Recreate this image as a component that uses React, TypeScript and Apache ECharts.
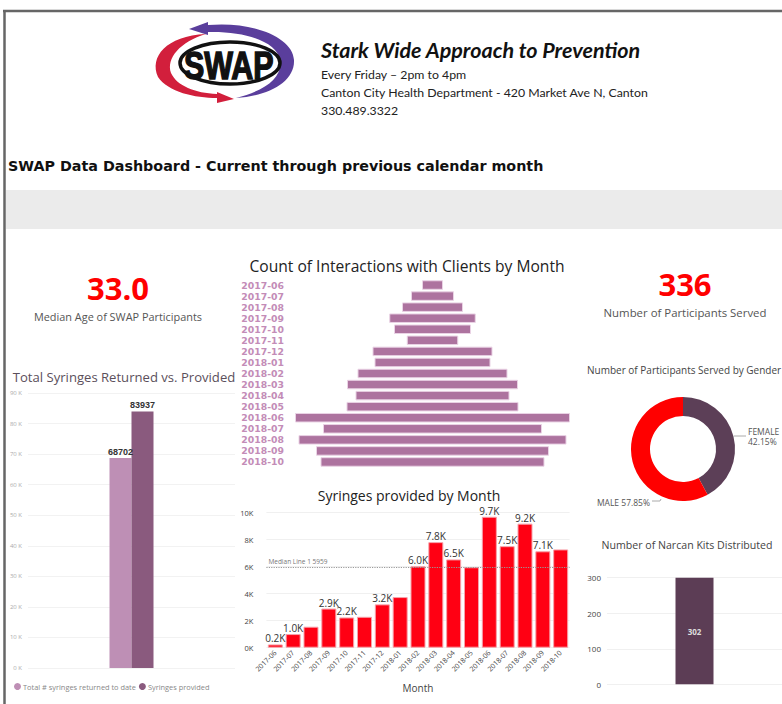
import React, { useEffect, useRef } from 'react';
import * as echarts from 'echarts';

// ---------- data ----------
const interactionMonths = ['2017-06','2017-07','2017-08','2017-09','2017-10','2017-11','2017-12','2018-01','2018-02','2018-03','2018-04','2018-05','2018-06','2018-07','2018-08','2018-09','2018-10'];
const interactionCounts = [42, 86, 122, 173, 154, 103, 240, 232, 300, 342, 308, 344, 550, 438, 536, 466, 448];

const syringeMonths = interactionMonths;
const syringesProvided = [240, 1010, 1555, 2900, 2240, 2290, 3210, 3750, 6030, 7820, 6540, 5959, 9700, 7520, 9190, 7140, 7280];
const unlabeledMonths = [2, 5, 7, 11, 16];

const totalsSeries = ['Total # syringes returned to date', 'Syringes provided'];
const totalsValues = [68702, 83937];

const genderNames = ['FEMALE', 'MALE'];
const genderCounts = [137, 188];

const narcanKits = [302];

const medianAge = '33.0';
const participantsServed = '336';

const FONT = 'Open Sans';

const redSwoosh = 'M 206 34 C 166 36, 149 57, 158 77 C 168 92, 195 98, 217 98 L 217 103 L 234 99 L 217 92 L 217 94 C 195 93, 177 86, 171 73 C 166 58, 180 42, 206 34 Z';
const purpleSwoosh = 'M 208 25 C 252 21, 293 37, 294 60 C 295 82, 268 96, 236 98 C 264 91, 283 78, 280 60 C 277 42, 246 31, 208 32 L 208 35 L 189 29 L 208 22 Z';

echarts.graphic.registerShape('redSwoosh', echarts.graphic.extendPath(redSwoosh, {}));
echarts.graphic.registerShape('purpleSwoosh', echarts.graphic.extendPath(purpleSwoosh, {}));

function txt(x: number, y: number, text: string, o: any = {}) {
  return {
    type: 'text', x, y, silent: true,
    style: {
      text, fontFamily: o.fontFamily || FONT, fontSize: o.fontSize || 12,
      fontWeight: o.fontWeight || 'normal', fontStyle: o.fontStyle || 'normal',
      fill: o.fill || '#333', align: o.align || 'left', verticalAlign: 'middle',
      stroke: o.stroke, lineWidth: o.lineWidth || 0,
    },
    scaleX: o.scaleX || 1,
    originX: 0, originY: 0,
  };
}

export default function App() {
  const ref = useRef<HTMLDivElement>(null);
  useEffect(() => {
    const chart = echarts.init(ref.current!, null, { renderer: 'svg' });
    const maxInteraction = Math.max(...interactionCounts);
    const offsets = interactionCounts.map((v) => (maxInteraction - v) / 2);
    const sorted = [...syringesProvided].sort((a, b) => a - b);
    const median = sorted[Math.floor(sorted.length / 2)];

    const option: any = {
      animation: false,
      backgroundColor: '#ffffff',
      graphic: [
        { type: 'rect', shape: { x: 6, y: 190, width: 776, height: 39 }, style: { fill: '#ebebeb' }, silent: true },
        { type: 'line', shape: { x1: 3, y1: 11, x2: 782, y2: 11 }, style: { stroke: '#666', lineWidth: 2.5 }, silent: true },
        { type: 'line', shape: { x1: 4.5, y1: 10, x2: 4.5, y2: 704 }, style: { stroke: '#666', lineWidth: 2.5 }, silent: true },
        { type: 'redSwoosh', x: 0, y: 0, style: { fill: '#d21f3c' }, silent: true },
        { type: 'purpleSwoosh', x: 0, y: 0, style: { fill: '#5a3e9c' }, silent: true },
        { type: 'ellipse', shape: { cx: 230, cy: 63, rx: 50, ry: 21 }, style: { fill: '#fff', stroke: '#111', lineWidth: 3.5 }, silent: true },
        txt(184, 66, 'SWAP', { fontFamily: 'Liberation Sans', fontSize: 38, fontWeight: 'bold', fill: '#111', scaleX: 0.8, stroke: '#111', lineWidth: 1.5 }),
        txt(321, 50, 'Stark Wide Approach to Prevention', { fontFamily: 'Lato', fontSize: 21.5, fontWeight: 'bold', fontStyle: 'italic', fill: '#111' }),
        txt(321, 74, 'Every Friday \u2013 2pm to 4pm', { fontFamily: 'Lato', fontSize: 12.3, fill: '#222' }),
        txt(321, 92, 'Canton City Health Department - 420 Market Ave N, Canton', { fontFamily: 'Lato', fontSize: 12.3, fill: '#222' }),
        txt(321, 110, '330.489.3322', { fontFamily: 'Lato', fontSize: 12.3, fill: '#222' }),
        txt(8, 166, 'SWAP Data Dashboard - Current through previous calendar month', { fontFamily: 'DejaVu Sans', fontSize: 14.3, fontWeight: 'bold', fill: '#111' }),
        txt(118, 288, medianAge, { fontSize: 31, fontWeight: 'bold', fill: '#ff0000', align: 'center' }),
        txt(118, 316, 'Median Age of SWAP Participants', { fontSize: 10.9, fill: '#555', align: 'center' }),
        txt(685, 284, participantsServed, { fontSize: 31, fontWeight: 'bold', fill: '#ff0000', align: 'center' }),
        txt(685, 312, 'Number of Participants Served', { fontSize: 11.4, fill: '#555', align: 'center' }),
        txt(124, 377, 'Total Syringes Returned vs. Provided', { fontSize: 13.1, fill: '#5b4f5b', align: 'center' }),
        txt(407, 266, 'Count of Interactions with Clients by Month', { fontSize: 15.6, fill: '#222', align: 'center' }),
        txt(409, 495, 'Syringes provided by Month', { fontSize: 14, fill: '#222', align: 'center' }),
        txt(587, 370, 'Number of Participants Served by Gender', { fontSize: 10, fill: '#444' }),
        txt(687, 545, 'Number of Narcan Kits Distributed', { fontSize: 10.6, fill: '#444', align: 'center' }),
      ],
      legend: {
        data: totalsSeries, left: 9, top: 678, icon: 'circle', itemWidth: 7, itemHeight: 7, itemGap: 3,
        textStyle: { fontSize: 7.4, color: '#888', fontFamily: FONT, padding: [0, 0, 0, -3] },
      },
      grid: [
        { left: 28, top: 393, width: 207, height: 275 },
        { left: 295, top: 279.5, width: 275, height: 188 },
        { left: 266.4, top: 512.7, width: 303.2, height: 135 },
        { left: 607, top: 577.7, width: 178, height: 106.6 },
      ],
      xAxis: [
        { gridIndex: 0, type: 'category', data: [''], axisLine: { show: false }, axisTick: { show: false }, axisLabel: { show: false } },
        { gridIndex: 1, type: 'value', min: 0, max: maxInteraction, show: false },
        {
          gridIndex: 2, type: 'category', data: syringeMonths, axisLine: { show: false }, axisTick: { show: false },
          axisLabel: { rotate: 45, fontSize: 7, color: '#444', margin: 4, interval: 0, fontFamily: FONT },
          name: 'Month', nameLocation: 'middle', nameGap: 35, nameTextStyle: { fontSize: 10, color: '#444', fontFamily: FONT },
        },
        { gridIndex: 3, type: 'category', data: [''], axisLine: { show: false }, axisTick: { show: false }, axisLabel: { show: false } },
      ],
      yAxis: [
        {
          gridIndex: 0, type: 'value', min: 0, max: 90000, interval: 10000,
          axisLabel: { formatter: (v: number) => v / 1000 + ' K', fontSize: 6, color: '#aaa', margin: 6, fontFamily: FONT },
          splitLine: { lineStyle: { color: '#f2f2f2' } },
        },
        {
          gridIndex: 1, type: 'category', data: interactionMonths, inverse: true,
          axisLine: { show: false }, axisTick: { show: false },
          axisLabel: { margin: 11, color: '#c38cb7', fontSize: 9.3, lineHeight: 10, fontFamily: 'DejaVu Sans', fontWeight: 'bold', interval: 0 },
        },
        {
          gridIndex: 2, type: 'value', min: 0, max: 10000, interval: 2000,
          axisLabel: { formatter: (v: number) => v / 1000 + 'K', fontSize: 7.5, color: '#444', margin: 13, fontFamily: FONT },
          splitLine: { lineStyle: { color: '#f0f0f0' } },
        },
        {
          gridIndex: 3, type: 'value', min: 0, max: 300, interval: 100,
          axisLabel: { fontSize: 8, color: '#444', margin: 6, fontFamily: FONT },
          splitLine: { lineStyle: { color: '#f0f0f0' } },
        },
      ],
      series: [
        {
          name: totalsSeries[0], type: 'bar', xAxisIndex: 0, yAxisIndex: 0, barWidth: 22, barGap: '0%',
          data: [totalsValues[0]], itemStyle: { color: '#be8fb5' },
          label: { show: true, position: 'top', fontSize: 9, fontWeight: 'bold', color: '#333', distance: 2 },
        },
        {
          name: totalsSeries[1], type: 'bar', xAxisIndex: 0, yAxisIndex: 0, barWidth: 22, barGap: '0%',
          data: [totalsValues[1]], itemStyle: { color: '#8a5a7e' },
          label: { show: true, position: 'top', fontSize: 9, fontWeight: 'bold', color: '#333', distance: 2 },
        },
        {
          type: 'bar', xAxisIndex: 1, yAxisIndex: 1, stack: 'funnel', data: offsets, barCategoryGap: '14%',
          itemStyle: { color: 'transparent' }, silent: true,
        },
        {
          type: 'bar', xAxisIndex: 1, yAxisIndex: 1, stack: 'funnel', data: interactionCounts, barCategoryGap: '14%',
          itemStyle: { color: '#ad739f', borderColor: '#ead3e5', borderWidth: 1 },
        },
        {
          type: 'bar', xAxisIndex: 2, yAxisIndex: 2, barWidth: 15,
          data: syringesProvided.map((v, i) => ({ value: v, label: { show: !unlabeledMonths.includes(i) } })),
          itemStyle: { color: '#ff0013', borderColor: '#f7a1a9', borderWidth: 1 },
          label: {
            position: 'top', fontSize: 10, color: '#333', distance: 1, fontFamily: FONT,
            formatter: (p: any) => (p.value / 1000).toFixed(1) + 'K',
          },
          markLine: {
            silent: true, symbol: 'none',
            lineStyle: { type: 'dotted', color: '#999', width: 1.2 },
            label: { position: 'insideStartTop', formatter: 'Median Line 1 ' + median, fontSize: 6.5, color: '#777', fontFamily: FONT, distance: 2 },
            data: [{ yAxis: median }],
          },
        },
        {
          type: 'bar', xAxisIndex: 3, yAxisIndex: 3, barWidth: 38, data: narcanKits,
          itemStyle: { color: '#5c3d55' },
          label: { show: true, position: 'inside', fontSize: 8, fontWeight: 'bold', color: '#ddd', fontFamily: FONT },
        },
        {
          type: 'pie', center: [683, 449], radius: [33, 52], startAngle: 90, clockwise: true,
          data: [
            { name: genderNames[0], value: genderCounts[0], itemStyle: { color: '#5c3f57' }, label: { formatter: '{b}\n{d}%' } },
            { name: genderNames[1], value: genderCounts[1], itemStyle: { color: '#ff0000' }, label: { formatter: '{b} {d}%' } },
          ],
          label: { fontSize: 8.5, color: '#555', fontFamily: FONT, lineHeight: 10, overflow: 'none' },
          labelLine: { length: 5, length2: 8, lineStyle: { color: '#aaa' } },
          labelLayout: (p: any) =>
            p.dataIndex === 0
              ? { x: 748, y: 436, align: 'left', verticalAlign: 'middle', width: 60, labelLinePoints: [[734, 436], [740, 436], [746, 436]] }
              : { x: 650, y: 502, align: 'right', verticalAlign: 'middle', width: 80, labelLinePoints: [[661, 499], [660, 501], [652, 501]] },
        },
      ],
    };
    chart.setOption(option);
    return () => chart.dispose();
  }, []);
  return <div ref={ref} style={{ position: 'absolute', left: 0, top: 0, width: 782, height: 704 }} />;
}
